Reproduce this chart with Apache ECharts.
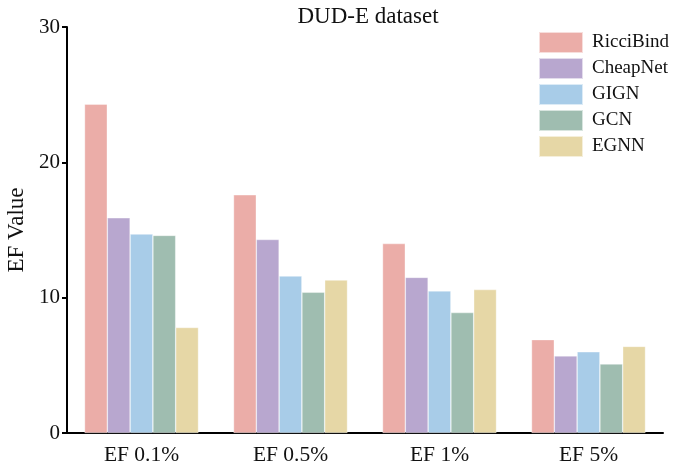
<!DOCTYPE html>
<html>
<head>
<meta charset="utf-8">
<script src="https://cdn.jsdelivr.net/npm/echarts@6/dist/echarts.min.js"></script>
<style>
  html, body { margin: 0; padding: 0; background: #fff; }
  #chart { width: 674px; height: 461px; }
</style>
</head>
<body>
<div id="chart"></div>
<script>
const categories = ['EF 0.1%', 'EF 0.5%', 'EF 1%', 'EF 5%']
const ricciBind = [24.3, 17.6, 14.0, 6.9]
const cheapNet = [15.9, 14.3, 11.5, 5.7]
const gign = [14.7, 11.6, 10.5, 6.0]
const gcn = [14.6, 10.4, 8.9, 5.1]
const egnn = [7.8, 11.3, 10.6, 6.4]
const yTicks = [0, 10, 20, 30]

const font = 'Liberation Serif, Times New Roman, serif'
const chart = echarts.init(document.getElementById('chart'))

function bar(name, data, color) {
  return {
    name: name,
    type: 'bar',
    barGap: '0%',
    barCategoryGap: '23.5%',
    itemStyle: { color: color, borderColor: 'rgba(255,255,255,0.6)', borderWidth: 0.6 },
    data: data
  }
}

const option = {
  animation: false,
  backgroundColor: '#fff',
  title: {
    text: 'DUD-E dataset',
    left: 368,
    textAlign: 'center',
    top: 5,
    padding: 0,
    textStyle: { fontFamily: font, fontSize: 23, fontWeight: 'normal', color: '#111' }
  },
  legend: {
    orient: 'vertical',
    left: 533,
    top: 26,
    itemWidth: 44,
    itemHeight: 21,
    itemGap: 3,
    icon: 'rect',
    textStyle: { fontFamily: font, fontSize: 19, color: '#111', padding: [0, 0, 0, 4] },
    data: ['RicciBind', 'CheapNet', 'GIGN', 'GCN', 'EGNN']
  },
  grid: { left: 67, right: 11, top: 27, bottom: 28, containLabel: false, outerBoundsMode: 'none' },
  xAxis: {
    type: 'category',
    data: categories,
    axisLine: { lineStyle: { color: '#000', width: 2 } },
    axisTick: { inside: true, length: 5, alignWithLabel: true, lineStyle: { color: '#000', width: 2 } },
    axisLabel: { fontFamily: font, fontSize: 21.5, color: '#111', margin: 11 }
  },
  yAxis: {
    type: 'value',
    min: 0,
    max: 30,
    interval: 10,
    name: 'EF Value',
    nameLocation: 'middle',
    nameGap: 39,
    nameTextStyle: { fontFamily: font, fontSize: 23, color: '#111' },
    axisLine: { show: true, lineStyle: { color: '#000', width: 2 } },
    axisTick: { show: true, length: 5, lineStyle: { color: '#000', width: 2 } },
    axisLabel: {
      fontFamily: font, fontSize: 21, color: '#111', margin: 7,
      formatter: function (v) { return yTicks.indexOf(v) >= 0 ? String(v) : '' }
    },
    splitLine: { show: false }
  },
  series: [
    bar('RicciBind', ricciBind, '#EBADA8'),
    bar('CheapNet', cheapNet, '#B8A7CF'),
    bar('GIGN', gign, '#A8CCE8'),
    bar('GCN', gcn, '#9FBDB0'),
    bar('EGNN', egnn, '#E6D7A6')
  ]
}
chart.setOption(option)
</script>
</body>
</html>
